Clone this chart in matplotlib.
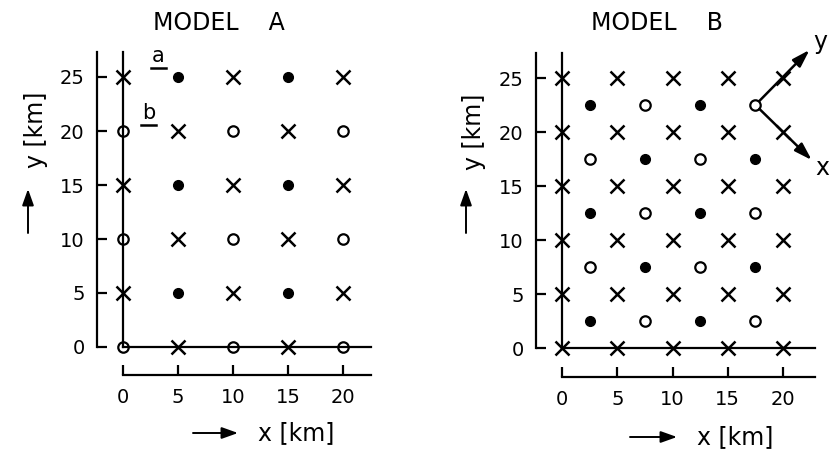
import numpy as np
import matplotlib
matplotlib.use('Agg')
import matplotlib.pyplot as plt
from matplotlib.patches import FancyArrowPatch

# ── Styling ───────────────────────────────────────────────────────────────────
plt.rcParams.update({
    'font.family': ['DejaVu Sans'],
    'font.size': 14,
    'axes.linewidth': 1.6,
})

# ── Station positions (km) ───────────────────────────────────────────────────
ticks_x = [0, 5, 10, 15, 20]
ticks_y = [0, 5, 10, 15, 20, 25]

# Model A
a_cross_x = [0, 0, 0, 5, 5, 5, 10, 10, 10, 15, 15, 15, 20, 20, 20]
a_cross_y = [25, 15, 5, 20, 10, 0, 25, 15, 5, 20, 10, 0, 25, 15, 5]
a_open_x = [0, 0, 0, 10, 10, 10, 20, 20, 20]
a_open_y = [20, 10, 0, 20, 10, 0, 20, 10, 0]
a_fill_x = [5, 5, 5, 15, 15, 15]
a_fill_y = [25, 15, 5, 25, 15, 5]

# Model B
b_cross_cols = [0, 5, 10, 15, 20]
b_cross_rows = [0, 5, 10, 15, 20, 25]
b_open_x = [7.5, 17.5, 2.5, 12.5, 7.5, 17.5, 2.5, 12.5, 7.5, 17.5]
b_open_y = [22.5, 22.5, 17.5, 17.5, 12.5, 12.5, 7.5, 7.5, 2.5, 2.5]
b_fill_x = [2.5, 12.5, 7.5, 17.5, 2.5, 12.5, 7.5, 17.5, 2.5, 12.5]
b_fill_y = [22.5, 22.5, 17.5, 17.5, 12.5, 12.5, 7.5, 7.5, 2.5, 2.5]

# rotated coordinate frame in model B
b_origin = (17.5, 22.5)
b_y_tip = (22.4, 27.6)
b_x_tip = (22.6, 17.4)

W, H = 830, 451
fig = plt.figure(figsize=(W / 100, H / 100), dpi=100)


def px_axes(left, right, top, bottom):
    return fig.add_axes([left / W, 1 - bottom / H, (right - left) / W, (bottom - top) / H])


def setup(ax, xmax, spine_x, spine_y):
    ax.set_xlim(-4, 23.5)
    ax.set_ylim(-3.5, 28)
    for s in ['top', 'right']:
        ax.spines[s].set_visible(False)
    ax.spines['left'].set_position(('data', spine_x))
    ax.spines['bottom'].set_position(('data', spine_y))
    ax.spines['left'].set_bounds(0, 27.3)
    ax.spines['bottom'].set_bounds(0, xmax)
    ax.set_xticks(ticks_x)
    ax.set_yticks(ticks_y)
    ax.tick_params(direction='in', length=7, width=1.6, labelsize=14)
    ax.tick_params(axis='y', pad=9)
    ax.tick_params(axis='x', pad=9)
    ax.patch.set_visible(False)
    # station axes lines through origin
    ax.plot([0, 0], [0, 27.3], color='black', lw=1.6, zorder=1)
    ax.plot([0, xmax], [0, 0], color='black', lw=1.6, zorder=1)


cross_kw = dict(linestyle='none', marker='x', markersize=10, mew=1.8, color='black', zorder=3)
open_kw = dict(linestyle='none', marker='o', markersize=7.5, mew=1.6, mfc='none', mec='black', zorder=3)
fill_kw = dict(linestyle='none', marker='o', markersize=7, color='black', zorder=3)

# ── Model A ──────────────────────────────────────────────────────────────────
axA = px_axes(79, 381.5, 44.6, 384.8)
setup(axA, 22.5, -2.36, -2.6)
axA.plot(a_cross_x, a_cross_y, **cross_kw)
axA.plot(a_open_x, a_open_y, **open_kw)
axA.plot(a_fill_x, a_fill_y, **fill_kw)
axA.text(3.2, 26.9, 'a', ha='center', va='center', fontsize=15)
axA.plot([2.5, 3.9], [25.8, 25.8], color='black', lw=1.8)
axA.text(2.3, 21.7, 'b', ha='center', va='center', fontsize=15)
axA.plot([1.6, 3.0], [20.6, 20.6], color='black', lw=1.8)

# ── Model B ──────────────────────────────────────────────────────────────────
axB = px_axes(517.8, 821.7, 45.6, 385.8)
setup(axB, 22.9, -2.35, -2.7)
gx, gy = np.meshgrid(b_cross_cols, b_cross_rows)
axB.plot(gx.ravel(), gy.ravel(), **cross_kw)
axB.plot(b_open_x, b_open_y, **open_kw)
axB.plot(b_fill_x, b_fill_y, **fill_kw)
for tip, lab, off in [(b_y_tip, 'y', (1.0, 0.7)), (b_x_tip, 'x', (1.0, -0.7))]:
    axB.annotate('', xy=tip, xytext=b_origin,
                 arrowprops=dict(arrowstyle='-|>,head_length=0.7,head_width=0.22',
                                 color='black', lw=1.8, shrinkA=4, shrinkB=0,
                                 mutation_scale=15),
                 annotation_clip=False)
    axB.text(tip[0] + off[0], tip[1] + off[1], lab, ha='center', va='center',
             fontsize=17, clip_on=False)

# ── Titles and axis labels ───────────────────────────────────────────────────
fig.text(219 / W, 1 - 23 / H, 'MODEL    A', ha='center', va='center', fontsize=17)
fig.text(657 / W, 1 - 23 / H, 'MODEL    B', ha='center', va='center', fontsize=17)

arrow_kw = dict(arrowstyle='-|>,head_length=0.7,head_width=0.25', color='black', lw=1.4,
                shrinkA=0, shrinkB=0, mutation_scale=14)
for (ax0, tx, ty) in [(28, 36, 130), (466, 474, 132)]:
    fig.add_artist(FancyArrowPatch(
        (ax0 / W, 1 - 233 / H), (ax0 / W, 1 - 189 / H),
        transform=fig.transFigure, **arrow_kw))
    fig.text(tx / W, 1 - ty / H, 'y [km]', rotation=90, ha='center', va='center', fontsize=17)

for (x0, x1, yy, tx) in [(193, 238, 433, 296), (630, 677, 437, 735)]:
    fig.add_artist(FancyArrowPatch(
        (x0 / W, 1 - yy / H), (x1 / W, 1 - yy / H),
        transform=fig.transFigure, **arrow_kw))
    fig.text(tx / W, 1 - yy / H, 'x [km]', ha='center', va='center', fontsize=17)

fig.savefig('out.png', dpi=100)
